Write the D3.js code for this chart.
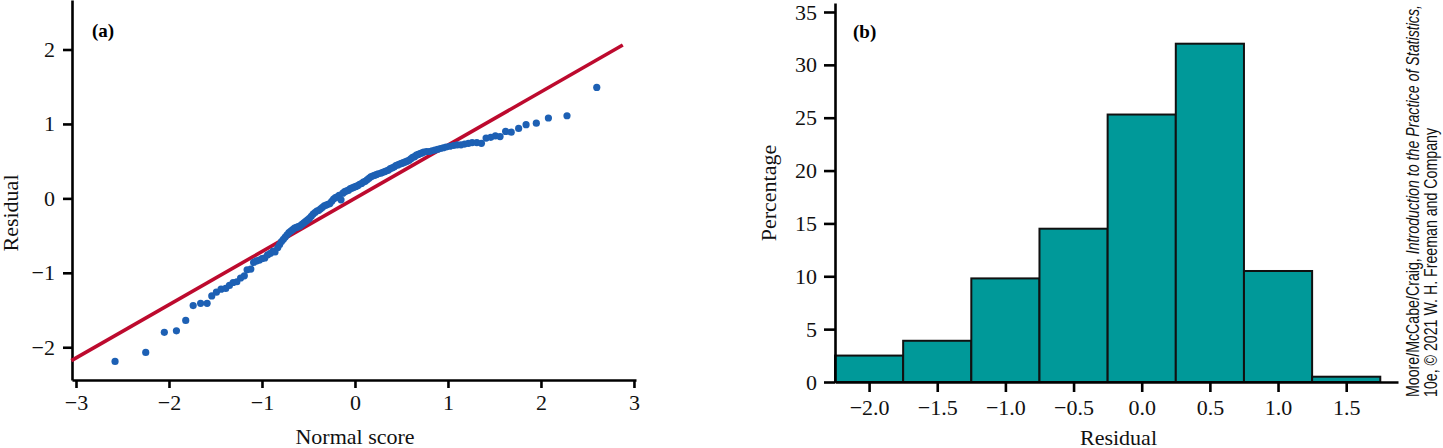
<!DOCTYPE html>
<html>
<head>
<meta charset="utf-8">
<script src="https://cdn.jsdelivr.net/npm/d3@7"></script>
<style>
  html, body { margin: 0; padding: 0; background: #fff; }
  svg { display: block; }
</style>
</head>
<body>
<svg id="chart" width="1443" height="448"></svg>
<script>
// ---------- Panel (a): normal quantile plot ----------
const normalScore = [
  -2.58, -2.25, -2.05, -1.92, -1.82, -1.74, -1.66, -1.59, -1.54, -1.49,
  -1.44, -1.39, -1.35, -1.31, -1.27, -1.23, -1.19, -1.16, -1.12, -1.09,
  -1.06, -1.03, -1.00, -0.97, -0.94, -0.91, -0.88, -0.86, -0.83, -0.81,
  -0.79, -0.77, -0.75, -0.73, -0.71, -0.69, -0.67, -0.65, -0.63, -0.61,
  -0.59, -0.57, -0.55, -0.53, -0.51, -0.49, -0.47, -0.45, -0.43, -0.41,
  -0.39, -0.37, -0.35, -0.33, -0.31, -0.29, -0.27, -0.25, -0.23, -0.21,
  -0.19, -0.17, -0.15, -0.13, -0.11, -0.09, -0.07, -0.05, -0.03, -0.01,
   0.01,  0.03,  0.05,  0.07,  0.09,  0.11,  0.13,  0.15,  0.17,  0.19,
   0.21,  0.23,  0.25,  0.28,  0.30,  0.32,  0.34,  0.36,  0.38,  0.40,
   0.42,  0.44,  0.46,  0.48,  0.50,  0.52,  0.54,  0.56,  0.58,  0.60,
   0.62,  0.64,  0.66,  0.68,  0.70,  0.72,  0.74,  0.77,  0.80,  0.83,
   0.86,  0.89,  0.92,  0.95,  0.98,  1.02,  1.06,  1.10,  1.14,  1.18,
   1.22,  1.26,  1.31,  1.36,  1.41,  1.46,  1.51,  1.56,  1.62,  1.68,
   1.76,  1.84,  1.95,  2.08,  2.28,  2.60
];
const residual = [
  -2.19, -2.07, -1.80, -1.78, -1.64, -1.44, -1.41, -1.41, -1.31, -1.26,
  -1.22, -1.21, -1.17, -1.13, -1.12, -1.07, -1.04, -0.96, -0.95, -0.86,
  -0.84, -0.83, -0.81, -0.80, -0.76, -0.74, -0.71, -0.72, -0.66, -0.62,
  -0.58, -0.55, -0.52, -0.49, -0.46, -0.44, -0.42, -0.40, -0.39, -0.38,
  -0.37, -0.35, -0.33, -0.31, -0.29, -0.27, -0.24, -0.21, -0.19, -0.17,
  -0.16, -0.14, -0.12, -0.10, -0.09, -0.08, -0.07, -0.04, -0.01,  0.01,
   0.02,  0.04, -0.02,  0.07,  0.09,  0.10,  0.11,  0.13,  0.14,  0.15,
   0.16,  0.17,  0.19,  0.20,  0.22,  0.23,  0.25,  0.27,  0.29,  0.30,
   0.31,  0.32,  0.33,  0.34,  0.35,  0.36,  0.37,  0.38,  0.40,  0.41,
   0.42,  0.44,  0.45,  0.46,  0.47,  0.48,  0.49,  0.50,  0.51,  0.53,
   0.55,  0.56,  0.58,  0.59,  0.60,  0.61,  0.62,  0.63,  0.63,  0.64,
   0.65,  0.66,  0.67,  0.68,  0.69,  0.70,  0.71,  0.72,  0.72,  0.73,
   0.74,  0.75,  0.75,  0.74,  0.81,  0.82,  0.84,  0.83,  0.90,  0.89,
   0.94,  0.99,  1.01,  1.08,  1.11,  1.49
];
const refLineX = [-3.05, 2.88];
const refLineY = [-2.18, 2.06];
const xTicksA = [-3, -2, -1, 0, 1, 2, 3];
const yTicksA = [-2, -1, 0, 1, 2];

// ---------- Panel (b): histogram ----------
const binCenters = [-2.0, -1.5, -1.0, -0.5, 0.0, 0.5, 1.0, 1.5];
const binWidth = 0.5;
const percentages = [2.5, 3.9, 9.8, 14.5, 25.3, 32.0, 10.5, 0.5];
const xTicksB = [-2.0, -1.5, -1.0, -0.5, 0.0, 0.5, 1.0, 1.5];
const yTicksB = [0, 5, 10, 15, 20, 25, 30, 35];

const creditLine1a = "Moore/McCabe/Craig, ";
const creditLine1b = "Introduction to the Practice of Statistics,";
const creditLine2 = "10e, \u00A9 2021 W. H. Freeman and Company";

const SERIF = "'Liberation Serif', 'Times New Roman', serif";
const SANS = "'Liberation Sans Narrow', 'Liberation Sans', Arial, sans-serif";

const svg = d3.select("#chart");

function styleAxis(g, fontSize) {
  g.selectAll(".domain").attr("stroke", "#000").attr("stroke-width", 2.6);
  g.selectAll(".tick line").attr("stroke", "#000").attr("stroke-width", 2.6);
  g.selectAll(".tick text")
    .attr("fill", "#111")
    .style("font-family", SERIF)
    .style("font-size", fontSize + "px");
}

// ===== Panel (a) =====
const xA = d3.scaleLinear().domain([-3.043, 3.022]).range([72, 636]);
const yA = d3.scaleLinear().domain([-2.44, 2.665]).range([380, 0]);

const gA = svg.append("g");

gA.append("g")
  .attr("transform", `translate(0,${yA.range()[0]})`)
  .call(d3.axisBottom(xA).tickValues(xTicksA).tickSize(8).tickSizeOuter(0).tickPadding(6).tickFormat(d3.format("d")))
  .call(g => styleAxis(g, 22));

gA.append("g")
  .attr("transform", `translate(${xA.range()[0]},0)`)
  .call(d3.axisLeft(yA).tickValues(yTicksA).tickSize(9).tickSizeOuter(0).tickPadding(8).tickFormat(d3.format("d")))
  .call(g => styleAxis(g, 22));

// reference line
gA.append("line")
  .attr("x1", xA(refLineX[0])).attr("y1", yA(refLineY[0]))
  .attr("x2", xA(refLineX[1])).attr("y2", yA(refLineY[1]))
  .attr("stroke", "#bd0a2e").attr("stroke-width", 3.6);

// points
gA.append("g").selectAll("circle")
  .data(normalScore.map((v, i) => [v, residual[i]]))
  .join("circle")
  .attr("cx", d => xA(d[0]))
  .attr("cy", d => yA(d[1]))
  .attr("r", 3.6)
  .attr("fill", "#1d60b4");

gA.append("text")
  .attr("x", 92).attr("y", 37)
  .style("font-family", SERIF).style("font-weight", "bold").style("font-size", "19px")
  .text("(a)");

gA.append("text")
  .attr("x", (xA.range()[0] + xA.range()[1]) / 2 + 1).attr("y", 444)
  .attr("text-anchor", "middle")
  .style("font-family", SERIF).style("font-size", "22px").attr("fill", "#111")
  .text("Normal score");

gA.append("text")
  .attr("transform", "translate(18,213) rotate(-90)")
  .attr("text-anchor", "middle")
  .style("font-family", SERIF).style("font-size", "22px").attr("fill", "#111")
  .text("Residual");

// ===== Panel (b) =====
const xB = d3.scaleLinear().domain([-2.25, 1.88]).range([835, 1398]);
const yB = d3.scaleLinear().domain([0, 35.85]).range([382, 3]);

const gB = svg.append("g");

gB.append("g").selectAll("rect")
  .data(binCenters.map((c, i) => ({ x0: c - binWidth / 2, x1: c + binWidth / 2, p: percentages[i] })))
  .join("rect")
  .attr("x", d => xB(d.x0))
  .attr("width", d => xB(d.x1) - xB(d.x0))
  .attr("y", d => yB(d.p))
  .attr("height", d => yB(0) - yB(d.p))
  .attr("fill", "#009999")
  .attr("stroke", "#111")
  .attr("stroke-width", 2);

gB.append("g")
  .attr("transform", `translate(0,${yB.range()[0]})`)
  .call(d3.axisBottom(xB).tickValues(xTicksB).tickSize(10).tickSizeOuter(0).tickPadding(7).tickFormat(d3.format(".1f")))
  .call(g => styleAxis(g, 22));

gB.append("g")
  .attr("transform", `translate(${xB.range()[0]},0)`)
  .call(d3.axisLeft(yB).tickValues(yTicksB).tickSize(11).tickSizeOuter(0).tickPadding(7).tickFormat(d3.format("d")))
  .call(g => styleAxis(g, 22));

gB.append("text")
  .attr("x", 853).attr("y", 38)
  .style("font-family", SERIF).style("font-weight", "bold").style("font-size", "19px")
  .text("(b)");

gB.append("text")
  .attr("x", (xB.range()[0] + xB.range()[1]) / 2 + 2).attr("y", 445)
  .attr("text-anchor", "middle")
  .style("font-family", SERIF).style("font-size", "22px").attr("fill", "#111")
  .text("Residual");

gB.append("text")
  .attr("transform", "translate(776,193) rotate(-90)")
  .attr("text-anchor", "middle")
  .style("font-family", SERIF).style("font-size", "22px").attr("fill", "#111")
  .text("Percentage");

// ===== Credit =====
const c1 = svg.append("text")
  .attr("transform", "translate(1419,397) rotate(-90)")
  .attr("textLength", 392).attr("lengthAdjust", "spacingAndGlyphs")
  .style("font-family", SANS).style("font-size", "18.5px").attr("fill", "#111");
c1.append("tspan").text(creditLine1a);
c1.append("tspan").style("font-style", "italic").text(creditLine1b);

svg.append("text")
  .attr("transform", "translate(1437,397) rotate(-90)")
  .attr("textLength", 269).attr("lengthAdjust", "spacingAndGlyphs")
  .style("font-family", SANS).style("font-size", "18.5px").attr("fill", "#111")
  .text(creditLine2);
</script>
</body>
</html>
